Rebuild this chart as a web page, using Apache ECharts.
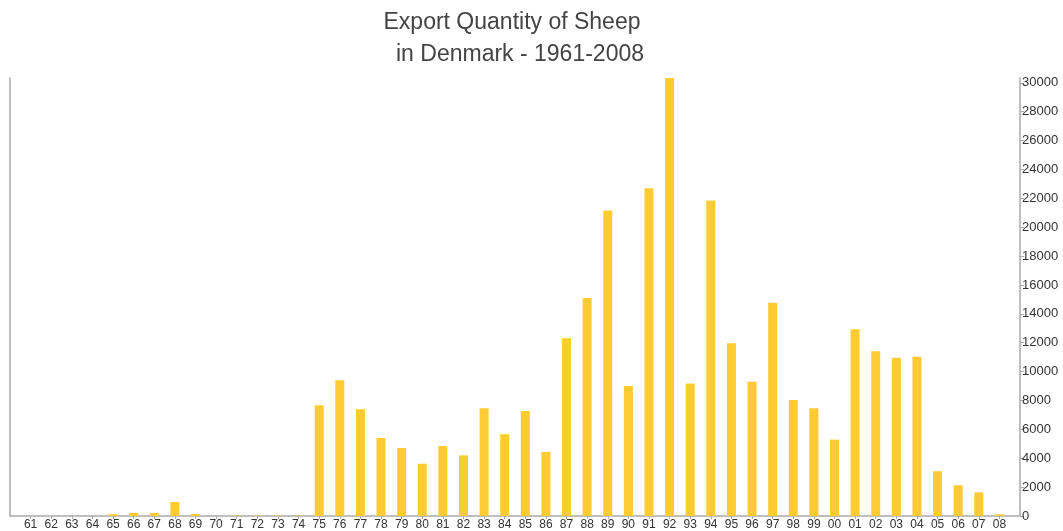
<!DOCTYPE html>
<html>
<head>
<meta charset="utf-8">
<title>Export Quantity of Sheep - Denmark</title>
<script src="https://cdn.jsdelivr.net/npm/echarts@6/dist/echarts.min.js"></script>
<style>
	html, body { margin: 0; padding: 0; background: #fff; }
	#chart { width: 1063px; height: 531px; }
</style>
</head>
<body>
<div id="chart"></div>
<script>
// years 1961-2008, shown as two digits
const years = ["61", "62", "63", "64", "65", "66", "67", "68", "69", "70",
	"71", "72", "73", "74", "75", "76", "77", "78", "79", "80",
	"81", "82", "83", "84", "85", "86", "87", "88", "89", "90",
	"91", "92", "93", "94", "95", "96", "97", "98", "99", "00",
	"01", "02", "03", "04", "05", "06", "07", "08"];
// export quantity (head)
const quantity = [0, 0, 0, 0, 130, 210, 210, 970, 140, 0,
	30, 30, 30, 30, 7670, 9400, 7390, 5400, 4710, 3620,
	4850, 4200, 7460, 5660, 7270, 4440, 12310, 15100, 21150, 9010,
	22700, 30330, 9170, 21850, 11960, 9300, 14760, 8030, 7460, 5290,
	12930, 11410, 10950, 11020, 3100, 2130, 1640, 120];
const yTicks = { min: 0, max: 30330, interval: 2000 };

const chart = echarts.init(document.getElementById("chart"), null, { renderer: "canvas" });

// one empty slot on each side gives the half-band gap next to the axis lines
const cats = [""].concat(years, [""]);
const vals = [null].concat(quantity, [null]);
const lineColor = "#aaaaaa";
const textColor = "#333333";
const titleStyle = { fontFamily: "Liberation Sans", fontSize: 23, fontWeight: "normal", color: "#444" };

const option = {
	animation: false,
	title: [
		{ text: "Export Quantity of Sheep", left: 507, top: 6, textAlign: "center", textStyle: titleStyle },
		{ text: "in Denmark - 1961-2008", left: 515, top: 38, textAlign: "center", textStyle: titleStyle },
	],
	grid: { left: 10, right: 43, top: 78, bottom: 15, containLabel: false },
	xAxis: {
		type: "category",
		data: cats,
		boundaryGap: false,
		axisLine: { lineStyle: { color: lineColor, width: 1.5 } },
		axisTick: {
			length: 3,
			interval: (i) => i > 0 && i < cats.length - 1,
			lineStyle: { color: lineColor },
		},
		axisLabel: { interval: 0, margin: 3, fontFamily: "Liberation Sans", fontSize: 12, color: textColor },
		splitLine: { show: false },
	},
	yAxis: [
		{
			type: "value",
			position: "right",
			min: yTicks.min, max: yTicks.max, interval: yTicks.interval,
			axisLine: { show: true, lineStyle: { color: lineColor, width: 1.5 } },
			axisTick: { show: true, length: 4, lineStyle: { color: lineColor } },
			axisLabel: {
				margin: 2, showMaxLabel: false,
				formatter: (v) => String(v),
				fontFamily: "Liberation Sans", fontSize: 13, color: textColor,
			},
			splitLine: { show: false },
		},
		{
			// plain left border line
			type: "value",
			position: "left",
			min: yTicks.min, max: yTicks.max, interval: yTicks.interval,
			axisLine: { show: true, lineStyle: { color: lineColor, width: 1.5 } },
			axisTick: { show: false },
			axisLabel: { show: false },
			splitLine: { show: false },
		},
	],
	series: [
		{
			type: "bar",
			data: vals,
			barWidth: 9,
			yAxisIndex: 0,
			itemStyle: { color: "#ffcb33" },
		},
	],
};

chart.setOption(option);
</script>
</body>
</html>
